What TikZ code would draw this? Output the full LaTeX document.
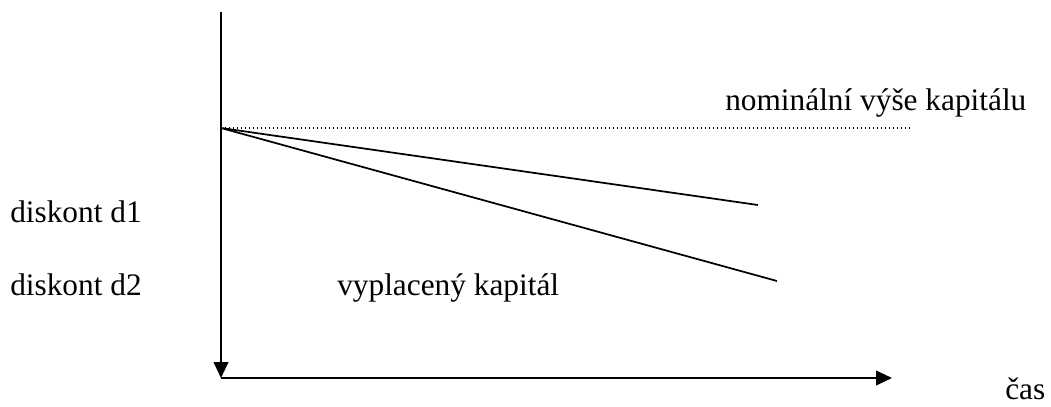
\documentclass[tikz,border=0pt]{standalone}
\usepackage{fontspec}
\setmainfont{Liberation Serif}
\usetikzlibrary{arrows.meta}

\begin{document}
\begin{tikzpicture}[x=0.75pt,y=-0.75pt,
  axis/.style={line width=1.5pt,-{Triangle[length=12pt,width=11pt]}},
  label/.style={anchor=base west,inner sep=0pt,font=\fontsize{23.5}{28}\selectfont}]

\useasboundingbox (0,0) rectangle (1051,407);

\coordinate (top) at (221,12);
\coordinate (o) at (221,378);
\coordinate (x) at (892,378);
\coordinate (k) at (221,128);
\coordinate (n) at (910,128);
\coordinate (d1) at (758,205);
\coordinate (d2) at (777,281);

\draw[axis] (top)--(o);
\draw[axis] (o)--(x);
\draw[line width=1pt,dotted] (k)--(n);
\draw[line width=1.3pt] (k)--(d1);
\draw[line width=1.3pt] (k)--(d2);

\node[label] (nom) at (725,110) {nominální výše kapitálu};
\node[label] (l1) at (10,222) {diskont d1};
\node[label] (l2) at (10,295) {diskont d2};
\node[label] (vyp) at (337,295) {vyplacený kapitál};
\node[label] (cas) at (1005,399) {čas};

\end{tikzpicture}
\end{document}
